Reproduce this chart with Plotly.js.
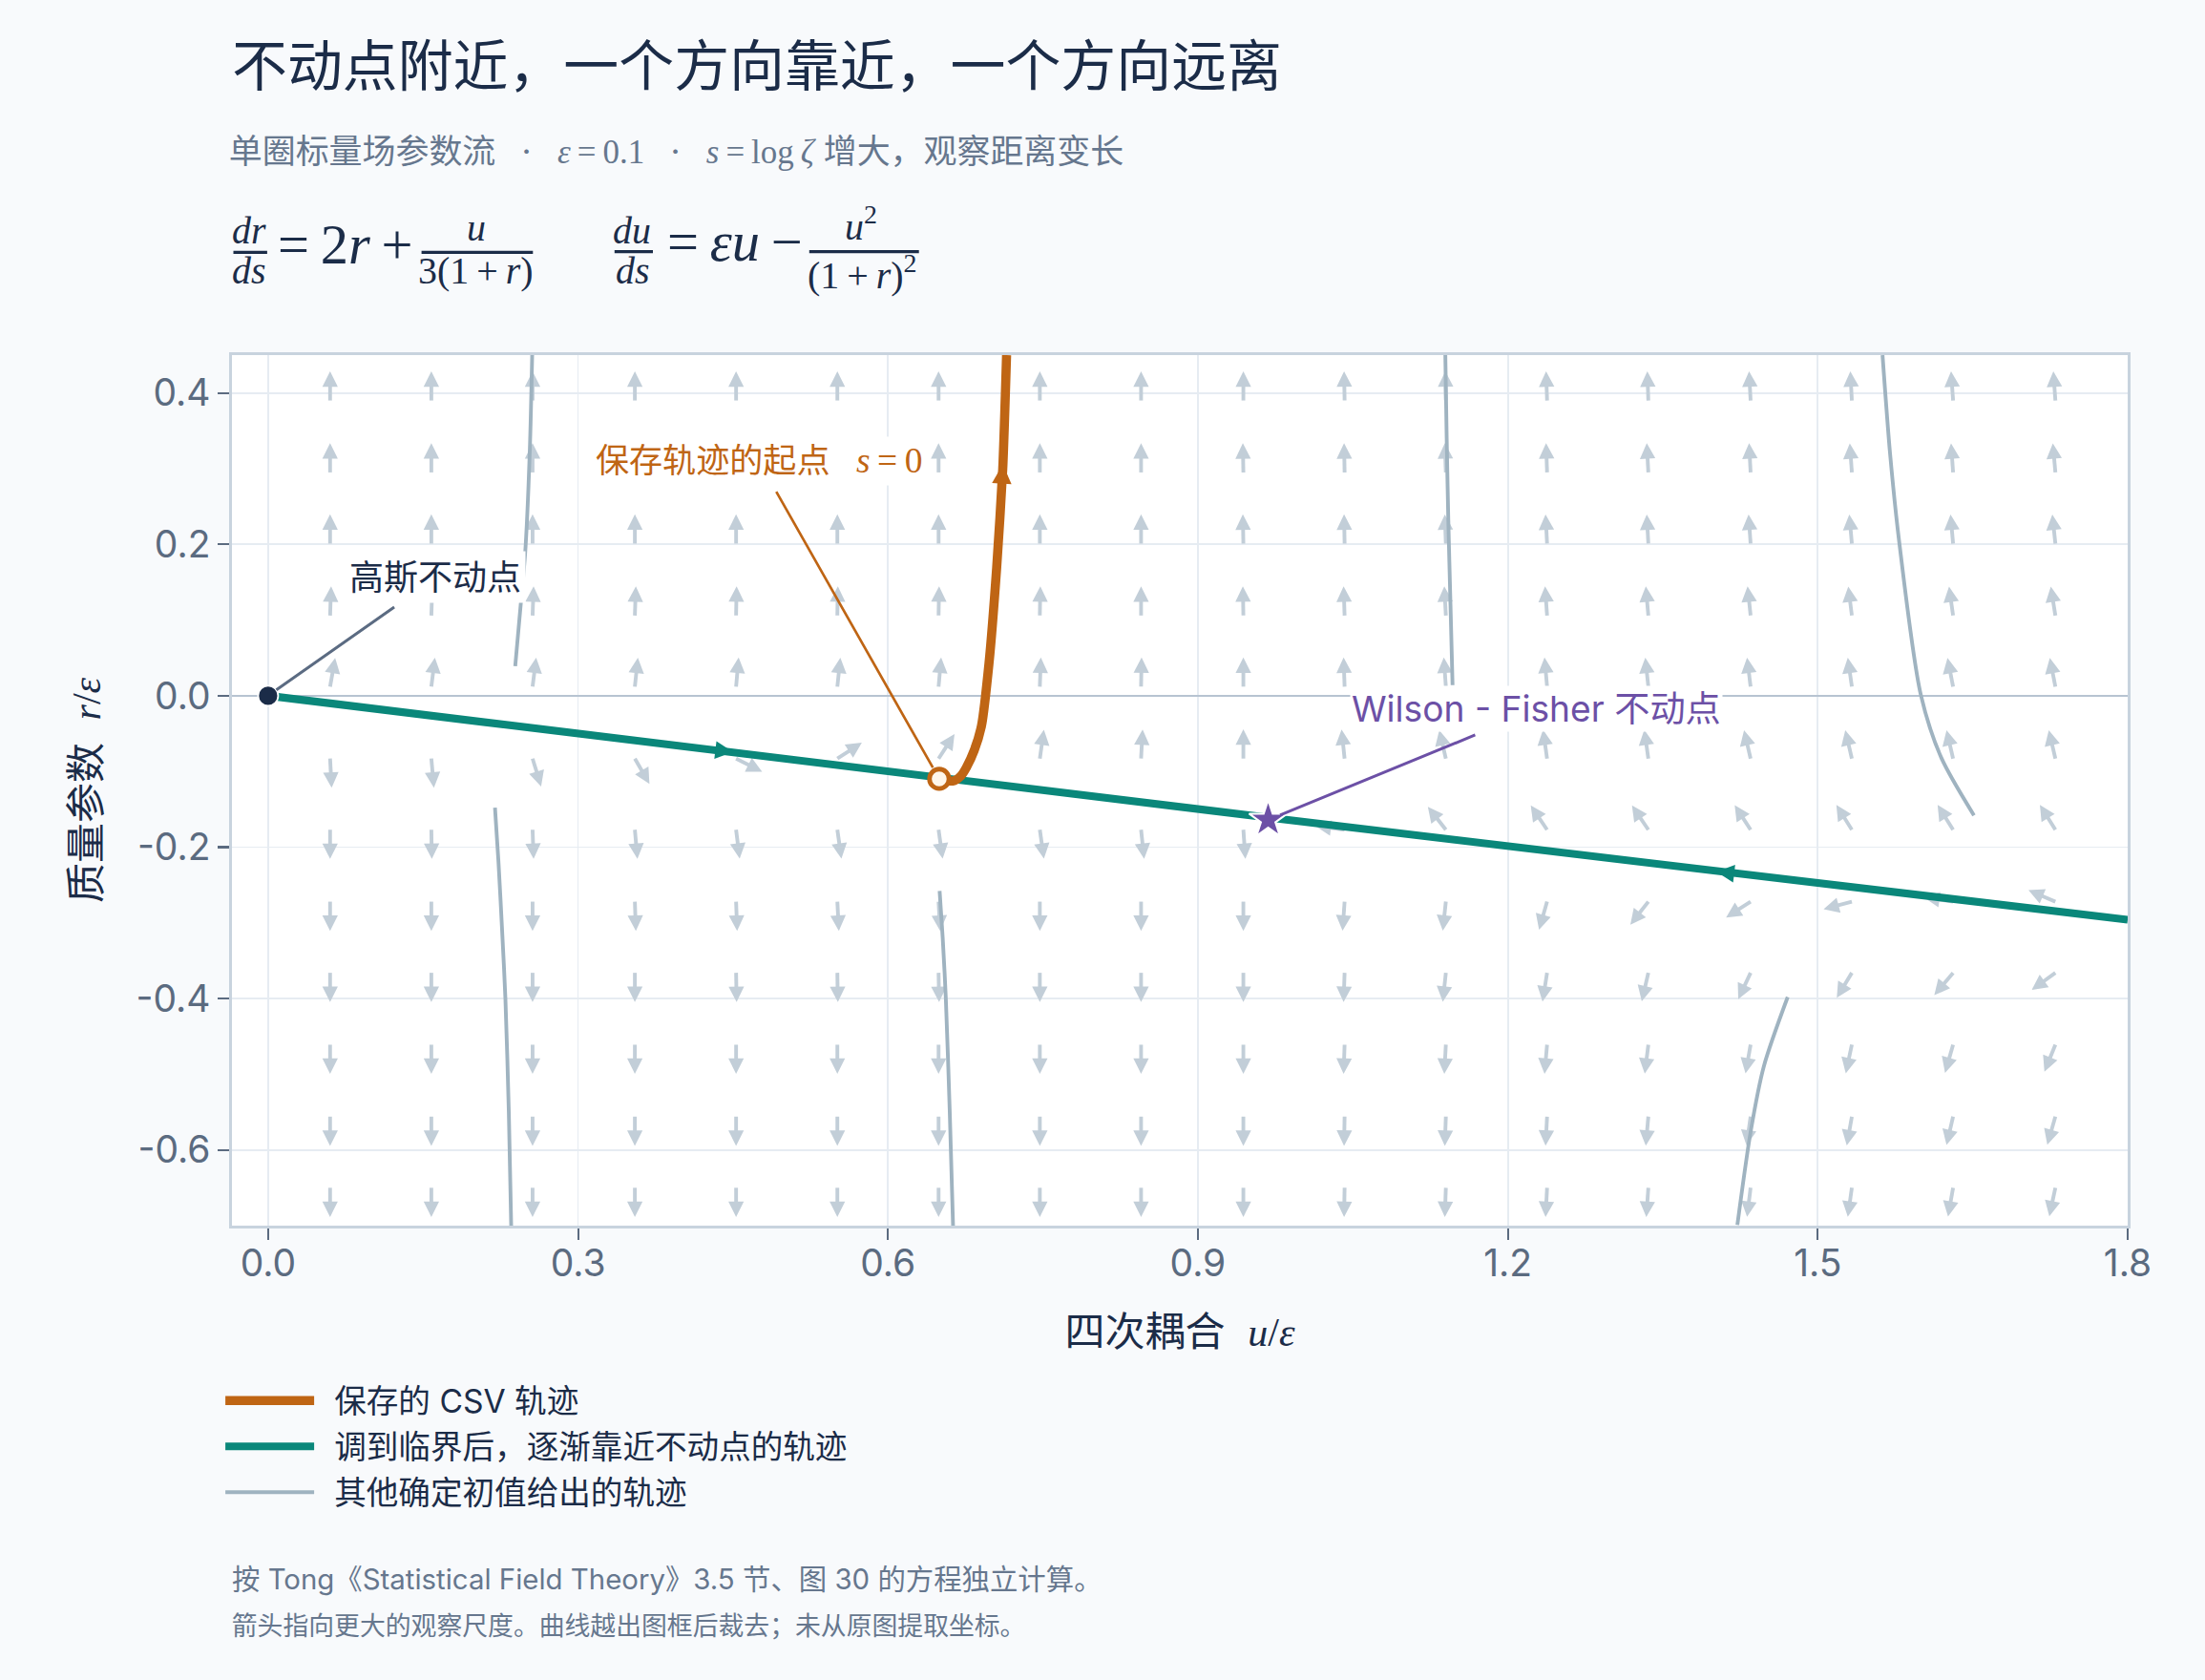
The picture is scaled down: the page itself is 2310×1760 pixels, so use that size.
<!DOCTYPE html>
<html lang="zh">
<head>
<meta charset="utf-8">
<title>不动点附近，一个方向靠近，一个方向远离</title>
<script src="https://cdn.plot.ly/plotly-3.0.1.min.js"></script>
<style>
  html { margin:0; padding:0; background:#f8fafc; overflow:hidden; }
  body { margin:0; padding:0; background:#f8fafc; width:2310px; height:1760px; }
  #chart { width:770px; height:587px; transform:scale(3); transform-origin:0 0; }
</style>
</head>
<body>
<div id="chart"></div>
<script>
// ================= data =================
const xTickVals = [0, 0.3, 0.6, 0.9, 1.2, 1.5, 1.8];
const xTickText = ['0.0', '0.3', '0.6', '0.9', '1.2', '1.5', '1.8'];
const yTickVals = [-0.6, -0.4, -0.2, 0, 0.2, 0.4];
const yTickText = ['-0.6', '-0.4', '-0.2', '0.0', '0.2', '0.4'];

// direction field: grid of arrow tails (u/ε, r/ε) and the arrow direction in degrees
// (0 = right, 90 = up, -90 = down, 180 = left), one row per r value
const arrowColsU = [0.060, 0.158, 0.256, 0.355, 0.453, 0.551, 0.649, 0.747, 0.845,
                    0.944, 1.042, 1.140, 1.238, 1.336, 1.435, 1.533, 1.631, 1.730];
const arrowRowsR = [0.390, 0.295, 0.201, 0.106, 0.012, -0.083, -0.177, -0.272, -0.366, -0.461, -0.556, -0.650];
const arrowAngleDeg = [
  [90, 90, 90, 90, 90, 90, 90, 90, 90, 90, 91, 91, 92, 92, 93, 93, 94, 94],
  [90, 90, 90, 90, 90, 90, 90, 90, 90, 91, 91, 92, 92, 93, 93, 94, 94, 95],
  [90, 90, 90, 90, 90, 90, 90, 90, 90, 91, 91, 92, 93, 93, 94, 95, 95, 96],
  [88, 88, 88, 88, 89, 89, 89, 89, 90, 91, 92, 93, 94, 95, 96, 97, 98, 99],
  [80, 83, 83, 84, 85, 84, 85, 88, 89, 90, 92, 94, 95, 96, 97, 98, 101, 101],
  [-87, -85, -73, -60, -27, 33, 57, 82, 87, 90, 96, 103, 98, 98, 103, 103, 103, 103],
  [-90, -89, -88, -85, -83, -82, -82, -82, -84, -86, 173, 128, 124, 124, 123, 122, 122, 122],
  [-90, -90, -90, -88, -88, -87, -87, -90, -90, -90, -94, -96, -106, -128, -147, -165, 172, 157],
  [-90, -90, -90, -90, -89, -89, -89, -90, -90, -90, -92, -96, -99, -103, -115, -121, -130, -144],
  [-90, -90, -90, -90, -90, -90, -90, -90, -90, -90, -92, -93, -95, -97, -100, -102, -106, -112],
  [-90, -90, -90, -90, -90, -90, -90, -90, -90, -90, -91, -92, -93, -95, -98, -100, -103, -106],
  [-90, -90, -90, -90, -90, -90, -90, -90, -90, -90, -91, -92, -93, -94, -97, -98, -100, -102]
];

// saved CSV trajectory (orange)
const csvU = [0.6496, 0.6570, 0.6645, 0.6705, 0.6758, 0.6835, 0.6905, 0.6978, 0.7052, 0.7111, 0.7148];
const csvR = [-0.1098, -0.1125, -0.1120, -0.1060, -0.0950, -0.0720, -0.0400, 0.0430, 0.1690, 0.3000, 0.4500];
const csvArrowU = [0.7094, 0.7112];
const csvArrowR = [0.262, 0.306];

// critical trajectories flowing into the Wilson-Fisher point (teal)
const critInU = [0, 0.25, 0.50, 0.75, 0.968];
const critInR = [0, -0.041, -0.083, -0.124, -0.161];
const critOutU = [1.80, 1.60, 1.40, 1.20, 0.968];
const critOutR = [-0.296, -0.264, -0.232, -0.200, -0.161];
const critArrowInU = [0.430, 0.450];
const critArrowInR = [-0.0712, -0.0745];
const critArrowOutU = [1.425, 1.402];
const critArrowOutR = [-0.2361, -0.2324];

// other trajectories from fixed initial values (grey)
const otherU = [
  [0.2392, 0.2445, 0.2489, 0.2533, 0.2556],
  [0.2196, 0.2230, 0.2265, 0.2297, 0.2330, 0.2353],
  [0.6500, 0.6530, 0.6560, 0.6598, 0.6630],
  [1.1465, 1.1445, 1.1424, 1.1408, 1.1395],
  [1.6512, 1.6196, 1.5997, 1.5789, 1.5700, 1.5627],
  [1.4709, 1.4479, 1.4354, 1.4222]
];
const otherR = [
  [0.039, 0.120, 0.190, 0.324, 0.450],
  [-0.148, -0.220, -0.310, -0.400, -0.550, -0.700],
  [-0.258, -0.320, -0.400, -0.550, -0.700],
  [0.014, 0.120, 0.232, 0.340, 0.450],
  [-0.158, -0.082, 0.0015, 0.2025, 0.320, 0.450],
  [-0.398, -0.489, -0.573, -0.699]
];

// fixed points and the saved starting point
const gaussU = [0];
const gaussR = [0];
const wfU = [0.968];
const wfR = [-0.164];
const startU = [0.6496];
const startR = [-0.1098];

// ================= styling / layout =================
const W = 770, H = 587;
const M = {l: 81, r: 27, t: 124, b: 159};
const plotW = W - M.l - M.r, plotH = H - M.t - M.b;
const xRange = [-0.035, 1.8];
const yRange = [-0.7, 0.45];
const xPx = plotW / (xRange[1] - xRange[0]);
const yPx = plotH / (yRange[1] - yRange[0]);

const SANS = "Inter, 'Noto Sans CJK SC', 'Noto Sans', sans-serif";
const SERIF = "'Liberation Serif', 'DejaVu Serif', serif";
const NAVY = '#1b2c48';
const SLATE = '#5b6b80';
const SUB = '#66778e';
const TEAL = '#0a877a';
const ORANGE = '#bf6514';
const PURPLE = '#6c50a6';
const GREYLINE = '#9fb3c0';
const ARROW = '#c2ced8';

// paper-coordinate helpers for text placed around the plot (1x pixel -> paper)
const px = v => (v - M.l) / plotW;
const py = v => (M.t + plotH - v) / plotH;

// build quiver from the grid (fixed on-screen arrow length)
const ARROW_LEN = 10.2, HEAD = 5.4;
const shaftX = [], shaftY = [], headX = [], headY = [], headAng = [];
arrowRowsR.forEach((r, i) => {
  arrowColsU.forEach((u, j) => {
    const deg = arrowAngleDeg[i][j];
    const a = deg * Math.PI / 180;
    const cx = Math.cos(a), cy = Math.sin(a);
    const shaftLen = ARROW_LEN - HEAD + 0.8;
    shaftX.push(u, u + cx * shaftLen / xPx, null);
    shaftY.push(r, r + cy * shaftLen / yPx, null);
    headX.push(u + cx * ARROW_LEN / xPx);
    headY.push(r + cy * ARROW_LEN / yPx);
    headAng.push(90 - deg);
  });
});

const otherX = [], otherY = [];
otherU.forEach((seg, k) => {
  seg.forEach((u, n) => { otherX.push(u); otherY.push(otherR[k][n]); });
  otherX.push(null); otherY.push(null);
});

const traces = [
  {type: 'scatter', mode: 'lines', x: shaftX, y: shaftY, hoverinfo: 'skip', showlegend: false,
   line: {color: ARROW, width: 1.3}},
  {type: 'scatter', mode: 'markers', x: headX, y: headY, hoverinfo: 'skip', showlegend: false,
   marker: {symbol: 'arrow-up', size: HEAD, angle: headAng, color: ARROW, line: {width: 0}}},
  {type: 'scatter', mode: 'lines', x: otherX, y: otherY, name: '\u2009其他确定初值给出的轨迹',
   legend: 'legend3', connectgaps: false,
   line: {color: GREYLINE, width: 1.3, shape: 'spline', smoothing: 0.8}},
  {type: 'scatter', mode: 'lines', x: critInU, y: critInR, name: '\u2009调到临界后，逐渐靠近不动点的轨迹',
   legend: 'legend2', legendgroup: 'crit', line: {color: TEAL, width: 2.7}},
  {type: 'scatter', mode: 'lines', x: critOutU, y: critOutR, name: '\u2009调到临界后，逐渐靠近不动点的轨迹',
   legend: 'legend2', legendgroup: 'crit', showlegend: false, line: {color: TEAL, width: 2.7}},
  {type: 'scatter', mode: 'markers', x: critArrowInU, y: critArrowInR, showlegend: false, hoverinfo: 'skip',
   marker: {symbol: 'arrow-up', size: 6.2, angleref: 'previous', color: TEAL, opacity: [0, 1], line: {width: 0}}},
  {type: 'scatter', mode: 'markers', x: critArrowOutU, y: critArrowOutR, showlegend: false, hoverinfo: 'skip',
   marker: {symbol: 'arrow-up', size: 6.2, angleref: 'previous', color: TEAL, opacity: [0, 1], line: {width: 0}}},
  {type: 'scatter', mode: 'lines', x: csvU, y: csvR, name: '\u2009保存的 CSV 轨迹', legend: 'legend',
   line: {color: ORANGE, width: 3.2, shape: 'spline', smoothing: 0.6}},
  {type: 'scatter', mode: 'markers', x: csvArrowU, y: csvArrowR, showlegend: false, hoverinfo: 'skip',
   marker: {symbol: 'arrow-up', size: 6.8, angleref: 'previous', color: ORANGE, opacity: [0, 1], line: {width: 0}}},
  {type: 'scatter', mode: 'markers', x: gaussU, y: gaussR, showlegend: false, name: '高斯不动点',
   marker: {symbol: 'circle', size: 7, color: NAVY, line: {color: '#ffffff', width: 0.6}}},
  {type: 'scatter', mode: 'markers', x: wfU, y: wfR, showlegend: false, name: 'Wilson - Fisher 不动点',
   marker: {symbol: 'star', size: 10, color: PURPLE, line: {color: '#ffffff', width: 0.7}}},
  {type: 'scatter', mode: 'markers', x: startU, y: startR, showlegend: false, name: '保存轨迹的起点',
   marker: {symbol: 'circle', size: 6.8, color: '#fff6ea', line: {color: ORANGE, width: 1.6}}}
];

const serif = t => '<span style="font-family:Liberation Serif">' + t + '</span>';
const SEP = '\u2002\u00a0·\u00a0\u2002';

const annotations = [];
// subtitle
annotations.push({
  xref: 'paper', yref: 'paper', x: px(79.2), y: py(52.7), xanchor: 'left', yanchor: 'middle', showarrow: false,
  borderpad: 0,
  text: '单圈标量场参数流' + SEP + serif('<i>ε</i>\u2009=\u20090.1') +
        SEP + serif('<i>s</i>\u2009=\u2009log\u2009<i>ζ</i>') + ' 增大，观察距离变长',
  font: {family: SANS, size: 11.65, color: SUB}
});
// formula pieces [text, centre x, centre y, size]
const formulaParts = [
  ['<i>dr</i>', 87.4, 80.0, 13.3],
  ['<i>ds</i>', 87.4, 94.2, 13.3],
  ['=\u20092<i>r</i>\u2009+', 120.8, 85.3, 19.5],
  ['<i>u</i>', 166.7, 79.6, 13.3],
  ['3(1\u2009+\u2009<i>r</i>)', 166.2, 94.2, 13.3],
  ['<i>du</i>', 221.1, 80.0, 13.3],
  ['<i>ds</i>', 221.1, 94.0, 13.3],
  ['=\u2009<i>εu</i>\u2009\u2212', 256.0, 85.0, 19.5],
  ['<i>u</i><sup>2</sup>', 301.1, 78.8, 13.3],
  ['(1\u2009+\u2009<i>r</i>)<sup>2</sup>', 301.7, 95.2, 13.3]
];
formulaParts.forEach(p => annotations.push({
  xref: 'paper', yref: 'paper', x: px(p[1]), y: py(p[2]), xanchor: 'center', yanchor: 'middle',
  showarrow: false, text: p[0], borderpad: 0, font: {family: SERIF, size: p[3], color: NAVY}
}));
const fracBars = [[81.5, 93.3, 88.1], [147.2, 186.1, 88.1], [214.6, 228.0, 87.9], [282.6, 320.9, 87.9]];
const shapes = fracBars.map(b => ({
  type: 'line', xref: 'paper', yref: 'paper', x0: px(b[0]), x1: px(b[1]), y0: py(b[2]), y1: py(b[2]),
  line: {color: NAVY, width: 1.1}
}));

// point labels
annotations.push({
  xref: 'x', yref: 'y', x: gaussU[0], y: gaussR[0], ax: 58.5, ay: -41.1, text: '高斯不动点',
  showarrow: true, arrowhead: 0, arrowwidth: 1, arrowcolor: '#5b6b82', standoff: 3.5, startstandoff: 2,
  bgcolor: '#ffffff', borderpad: 1, font: {family: SANS, size: 12, color: NAVY}
});
annotations.push({
  xref: 'x', yref: 'y', x: startU[0], y: startR[0], ax: -62.7, ay: -110.5,
  text: '保存轨迹的起点\u2002\u00a0<span style="font-family:Liberation Serif;font-size:12.5px"><i>s</i>\u2009=\u20090</span>',
  showarrow: true, arrowhead: 0, arrowwidth: 0.9, arrowcolor: ORANGE, standoff: 4.5, startstandoff: 2,
  bgcolor: '#ffffff', borderpad: 1, font: {family: SANS, size: 11.7, color: ORANGE}
});
annotations.push({
  xref: 'x', yref: 'y', x: wfU[0], y: wfR[0], ax: 94.1, ay: -38.6, text: 'Wilson - Fisher 不动点',
  showarrow: true, arrowhead: 0, arrowwidth: 1, arrowcolor: PURPLE, standoff: 4.5, startstandoff: 2.5,
  bgcolor: '#ffffff', borderpad: 0, font: {family: SANS, size: 12.4, color: PURPLE}
});
// footnotes
annotations.push({
  xref: 'paper', yref: 'paper', x: px(80), y: py(551.1), xanchor: 'left', yanchor: 'middle', showarrow: false,
  borderpad: 0, text: '按 Tong《Statistical Field Theory》3.5 节、图 30 的方程独立计算。',
  font: {family: SANS, size: 9.8, color: SUB}
});
annotations.push({
  xref: 'paper', yref: 'paper', x: px(80), y: py(567.8), xanchor: 'left', yanchor: 'middle', showarrow: false,
  borderpad: 0, text: '箭头指向更大的观察尺度。曲线越出图框后裁去；未从原图提取坐标。',
  font: {family: SANS, size: 8.95, color: SUB}
});

const axisCommon = {
  showgrid: true, gridcolor: '#e6ecf2', gridwidth: 0.6,
  showline: true, mirror: true, linecolor: '#c8d3de', linewidth: 0.9,
  ticks: 'outside', ticklen: 4, tickwidth: 0.7, tickcolor: SLATE,
  tickfont: {family: SANS, size: 13, color: SLATE}, fixedrange: true
};
const legendCommon = {
  xanchor: 'left', yanchor: 'middle', bgcolor: 'rgba(0,0,0,0)', borderwidth: 0, itemwidth: 31,
  font: {family: SANS, size: 11.2, color: NAVY}
};

const layout = {
  width: W, height: H, autosize: false,
  margin: {l: M.l, r: M.r, t: M.t, b: M.b, pad: 0},
  paper_bgcolor: '#f8fafc', plot_bgcolor: '#ffffff',
  font: {family: SANS, color: NAVY},
  title: {
    text: '不动点附近，一个方向靠近，一个方向远离',
    x: 0, xref: 'paper', xanchor: 'left', y: 1 - 23.1 / H, yref: 'container', yanchor: 'middle',
    pad: {t: 0, b: 0, l: 0, r: 0}, font: {family: SANS, size: 19.3, color: NAVY}
  },
  xaxis: Object.assign({}, axisCommon, {
    range: xRange, tickmode: 'array', tickvals: xTickVals, ticktext: xTickText, zeroline: false,
    ticklabelstandoff: -3,
    title: {text: '四次耦合\u00a0\u00a0' + serif('<i>u</i>/<i>ε</i>'), standoff: 12,
            font: {family: SANS, size: 14, color: NAVY}}
  }),
  yaxis: Object.assign({}, axisCommon, {
    range: yRange, tickmode: 'array', tickvals: yTickVals, ticktext: yTickText,
    zeroline: true, zerolinecolor: '#b7c4d1', zerolinewidth: 0.8,
    title: {text: '质量参数\u00a0\u00a0' + serif('<i>r</i>/<i>ε</i>'), standoff: 8,
            font: {family: SANS, size: 14, color: NAVY}}
  }),
  legend: Object.assign({}, legendCommon, {x: px(73.7), y: py(489.1)}),
  legend2: Object.assign({}, legendCommon, {x: px(73.7), y: py(505.1)}),
  legend3: Object.assign({}, legendCommon, {x: px(73.7), y: py(521.1)}),
  annotations: annotations,
  shapes: shapes,
  showlegend: true
};

Plotly.newPlot('chart', traces, layout, {displayModeBar: false, staticPlot: true});
</script>
</body>
</html>
